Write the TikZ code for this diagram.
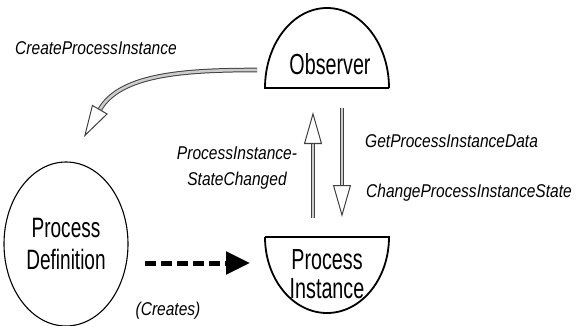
\documentclass[tikz,border=0pt]{standalone}
\usepackage{fontspec}
\usepackage{tikz}
\usetikzlibrary{arrows.meta,shapes.geometric}
\setmainfont{Liberation Sans}
\newfontfamily\shapefont[FakeStretch=0.68]{Liberation Sans}
\newfontfamily\labelfont[FakeStretch=0.84]{Liberation Sans}

\begin{document}
\begin{tikzpicture}[x=1pt,y=-1pt,
	shapetext/.style={font=\shapefont\fontsize{29}{29}\selectfont, align=center, inner sep=0pt},
	msglabel/.style={font=\labelfont\itshape\fontsize{18.5}{25}\selectfont, align=center, inner sep=0pt},
	msg/.style={draw=gray!50!black, line width=1pt, double=gray!40, double distance=2.6pt,
		-{Triangle[open, length=32pt, width=18pt, line width=1pt]}},
	creates/.style={line width=5pt, dash pattern=on 11pt off 5pt, -{Triangle[length=24pt, width=22pt]}}]
			\useasboundingbox[fill=white] (0,0) rectangle (578,326);
			\draw[line width=1.8pt] (389,88) -- (265,88) arc[start angle=180, end angle=360, x radius=62, y radius=80];
			\draw[line width=1.8pt] (265,237) -- (389,237) arc[start angle=0, end angle=180, x radius=62, y radius=76];
			\node[shapetext, anchor=base] (obs) at (330,75) {Observer};
			\node[shapetext, anchor=base] (inst) at (327,298) {Process\\Instance};
			\node[shapetext, draw, line width=1.1pt, ellipse, minimum width=124pt, minimum height=164pt,
				font=\shapefont\fontsize{28}{32}\selectfont] (def) at (66,244) {Process\\Definition};
			\coordinate (curveS) at (257,70);
			\coordinate (curveE) at (84,137);
			\coordinate (upS) at (313,218);
			\coordinate (upE) at (313,112);
			\coordinate (downS) at (342,108);
			\coordinate (downE) at (342,217);
			\coordinate (createS) at (145,263);
			\coordinate (createE) at (250,263);
			\draw[msg] (curveS) to[out=180, in=60] (curveE);
			\draw[msg] (upS) -- (upE);
			\draw[msg] (downS) -- (downE);
			\draw[creates] (createS) -- (createE);
			\node[msglabel, anchor=base] (lcreate) at (96,55) {CreateProcessInstance};
			\node[msglabel, anchor=base] (lstate) at (237,185) {ProcessInstance-\\StateChanged};
			\node[msglabel, anchor=base west] (lget) at (365,147) {GetProcessInstanceData};
			\node[msglabel, anchor=base west] (lchange) at (366,197) {ChangeProcessInstanceState};
			\node[msglabel, anchor=base] (lcreates) at (168,315) {(Creates)};
\end{tikzpicture}
\end{document}
